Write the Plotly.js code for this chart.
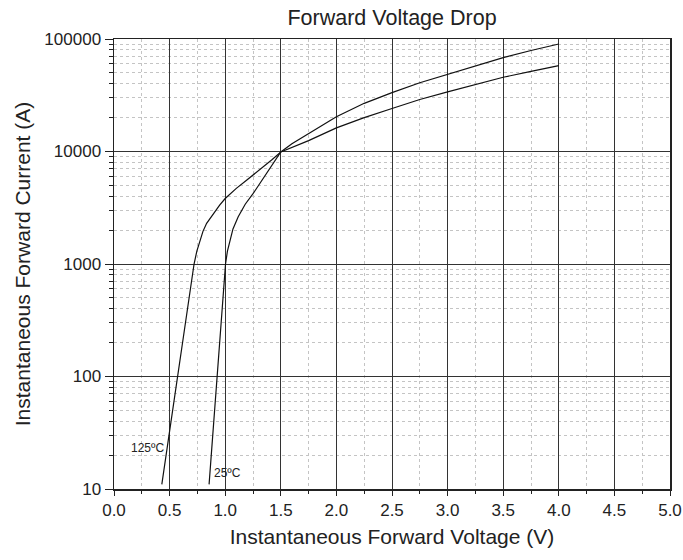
<!DOCTYPE html>
<html>
<head>
<meta charset="utf-8">
<script src="https://cdn.plot.ly/plotly-3.0.1.min.js"></script>
<style>html,body{margin:0;padding:0;background:#fff;}</style>
</head>
<body>
<div id="chart" style="width:683px;height:560px;"></div>
<script>
// 125 °C curve
const v125 = [0.43, 0.72, 0.745, 0.773, 0.80, 0.833, 0.90, 0.95, 1.0, 1.1, 1.192, 1.25, 1.342, 1.42, 1.5, 1.6, 1.75, 2.0, 2.25, 2.5, 2.75, 3.0, 3.25, 3.5, 3.75, 4.0];
const i125 = [11, 1000, 1300, 1640, 1950, 2300, 2850, 3330, 3820, 4700, 5550, 6150, 7260, 8450, 9900, 10900, 12500, 16200, 20000, 24100, 29000, 33900, 39500, 45700, 51500, 57900];
// 25 °C curve
const v25 = [0.855, 1.003, 1.02, 1.042, 1.07, 1.117, 1.18, 1.252, 1.31, 1.372, 1.44, 1.5, 1.6, 1.75, 2.0, 2.25, 2.5, 2.75, 3.0, 3.25, 3.5, 3.75, 4.0];
const i25 = [11, 1000, 1300, 1640, 2050, 2630, 3400, 4240, 5200, 6360, 8000, 9900, 11700, 14400, 20400, 26800, 33400, 40800, 48500, 58000, 68200, 79000, 90300];

const labels = ["125ºC", "25ºC"];
const labelX = [0.305, 1.025];
const labelY = [23, 13.9];

const FONT = "Liberation Sans, Arial, sans-serif";

const traces = [
  {x: v125, y: i125, mode: "lines", line: {color: "#111", width: 1.2}, hoverinfo: "none", showlegend: false},
  {x: v25, y: i25, mode: "lines", line: {color: "#111", width: 1.2}, hoverinfo: "none", showlegend: false}
];

const layout = {
  width: 683, height: 560,
  margin: {l: 114, r: 13, t: 39, b: 71},
  paper_bgcolor: "#fff", plot_bgcolor: "#fff",
  font: {family: FONT, color: "#222"},
  title: {text: "Forward Voltage Drop", font: {size: 21.5, color: "#222"}, x: 0.574, xanchor: "center", y: 0.968, yanchor: "middle"},
  xaxis: {
    range: [0, 5], dtick: 0.5, tick0: 0, tickformat: ".1f",
    showline: true, linecolor: "#222", linewidth: 1.5, mirror: true,
    showgrid: true, gridcolor: "#333", gridwidth: 1,
    ticks: "outside", ticklen: 5, tickcolor: "#222",
    tickfont: {size: 17, color: "#222"},
    zeroline: false,
    minor: {dtick: 0.25, showgrid: true, gridcolor: "#c4c4c4", griddash: "dot", gridwidth: 1, ticks: "outside", ticklen: 3, tickcolor: "#222"},
    title: {text: "Instantaneous Forward Voltage (V)", font: {size: 21, color: "#222"}, standoff: 10}
  },
  yaxis: {
    type: "log", range: [1, 5], dtick: 1, tickformat: "d",
    showline: true, linecolor: "#222", linewidth: 1.5, mirror: true,
    showgrid: true, gridcolor: "#333", gridwidth: 1,
    ticks: "outside", ticklen: 8, tickcolor: "#222",
    tickfont: {size: 17, color: "#222"},
    zeroline: false,
    minor: {dtick: "D1", showgrid: true, gridcolor: "#c4c4c4", griddash: "dot", gridwidth: 1, ticks: "outside", ticklen: 4, tickcolor: "#222"},
    title: {text: "Instantaneous Forward Current (A)", font: {size: 21, color: "#222"}, standoff: 8}
  },
  annotations: labels.map((t, k) => ({
    x: labelX[k], y: Math.log10(labelY[k]), xref: "x", yref: "y",
    text: t, showarrow: false, font: {size: 12, color: "#222"}, xanchor: "center", yanchor: "middle"
  }))
};

Plotly.newPlot("chart", traces, layout, {displayModeBar: false, staticPlot: true});
</script>
</body>
</html>
